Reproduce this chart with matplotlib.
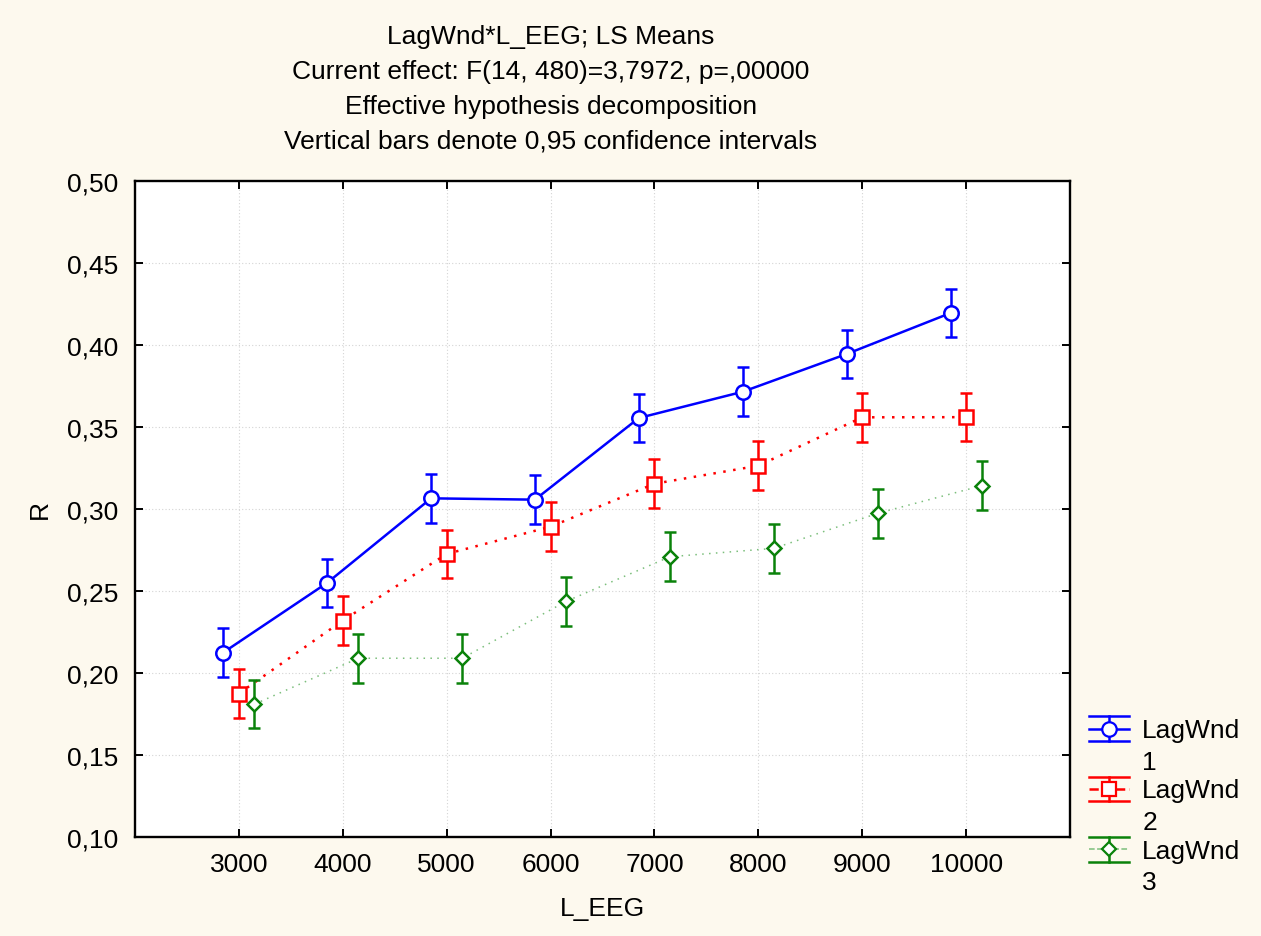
import matplotlib
matplotlib.use('Agg')
import matplotlib.pyplot as plt
from matplotlib.lines import Line2D
from matplotlib.legend_handler import HandlerBase

# ---------------- data ----------------
l_eeg = [3000, 4000, 5000, 6000, 7000, 8000, 9000, 10000]
r_lag1 = [0.2125, 0.2550, 0.3065, 0.3057, 0.3555, 0.3715, 0.3945, 0.4195]
r_lag2 = [0.1875, 0.2320, 0.2726, 0.2892, 0.3154, 0.3264, 0.3559, 0.3560]
r_lag3 = [0.1810, 0.2090, 0.2090, 0.2437, 0.2709, 0.2760, 0.2974, 0.3142]
ci_lag1 = [0.0148, 0.0148, 0.0148, 0.0148, 0.0148, 0.0148, 0.0148, 0.0148]
ci_lag2 = [0.0148, 0.0148, 0.0148, 0.0148, 0.0148, 0.0148, 0.0148, 0.0148]
ci_lag3 = [0.0148, 0.0148, 0.0148, 0.0148, 0.0148, 0.0148, 0.0148, 0.0148]
series_labels = ['LagWnd\n1', 'LagWnd\n2', 'LagWnd\n3']
y_ticks = [0.10, 0.15, 0.20, 0.25, 0.30, 0.35, 0.40, 0.45, 0.50]
title_lines = ['LagWnd*L_EEG; LS Means',
               'Current effect: F(14, 480)=3,7972, p=,00000',
               'Effective hypothesis decomposition',
               'Vertical bars denote 0,95 confidence intervals']

plt.rcParams['font.family'] = ['Liberation Sans', 'DejaVu Sans']
FS = 19

W, H = 1261, 937
fig = plt.figure(figsize=(W / 100, H / 100), dpi=100)
bg = '#fdf9ee'
fig.patch.set_facecolor(bg)

ax = fig.add_axes([135 / W, 1 - 838 / H, (1070 - 135) / W, (838 - 182) / H])
ax.set_facecolor('white')

styles = [
    dict(color='#0000ff', marker='o', ms=10.4, line_color='#0000ff', ls='-', lw=1.8, off=-150),
    dict(color='#ff0000', marker='s', ms=9.8, line_color='#ff0000', ls=(0, (1, 3)), lw=1.8, off=0),
    dict(color='#0a820a', marker='D', ms=7.5, line_color='#7cbf7c', ls=(0, (1, 3.5)), lw=1.1, off=150),
]
data = [(r_lag1, ci_lag1), (r_lag2, ci_lag2), (r_lag3, ci_lag3)]

handles = []
for (vals, ci), st, lab in zip(data, styles, series_labels):
    xs = [x + st['off'] for x in l_eeg]
    ax.plot(xs, vals, color=st['line_color'], ls=st['ls'], lw=st['lw'], zorder=2)
    ax.errorbar(xs, vals, yerr=ci, fmt='none', ecolor=st['color'], elinewidth=1.8,
                capsize=4.4, capthick=1.8, zorder=3)
    ax.plot(xs, vals, ls='none', marker=st['marker'], ms=st['ms'], mfc='white',
            mec=st['color'], mew=1.8, zorder=4)
    h = Line2D([], [], color=st['color'], marker=st['marker'], ms=st['ms'],
               ls=st['ls'], lw=st['lw'], mfc='white', mec=st['color'], mew=1.6)
    h._line_color = st['line_color']
    handles.append(h)


class ErrbarHandler(HandlerBase):
    def create_artists(self, legend, orig_handle, xdescent, ydescent, width, height,
                       fontsize, trans):
        c = orig_handle.get_color()
        lc = getattr(orig_handle, '_line_color', c)
        shift = 12.6
        cy = height / 2 - ydescent + shift
        x0, x1 = -xdescent, -xdescent + width
        xm = (x0 + x1) / 2
        hh = 8.9
        arts = []
        arts.append(Line2D([x0, x1], [cy + hh, cy + hh], color=c, lw=1.8))
        arts.append(Line2D([x0, x1], [cy - hh, cy - hh], color=c, lw=1.8))
        arts.append(Line2D([x0, x1], [cy, cy], color=lc, lw=orig_handle.get_linewidth(),
                           ls=orig_handle.get_linestyle()))
        arts.append(Line2D([xm, xm], [cy - hh, cy + hh], color=c, lw=1.8))
        arts.append(Line2D([xm], [cy], ls='none', marker=orig_handle.get_marker(),
                           ms=orig_handle.get_markersize(), mfc='white', mec=c, mew=1.6))
        for a in arts:
            a.set_transform(trans)
        return arts


leg = fig.legend(handles, series_labels, loc='upper left',
                 bbox_to_anchor=(1089 / W, 1 - 719 / H), frameon=False,
                 fontsize=FS, handlelength=1.52, handletextpad=0.5,
                 labelspacing=0.18, borderpad=0, borderaxespad=0,
                 handler_map={Line2D: ErrbarHandler()})
for t in leg.get_texts():
    t.set_linespacing(1.4)

ax.set_xlim(2000, 11000)
ax.set_ylim(0.10, 0.50)
ax.set_xticks(l_eeg)
ax.set_xticklabels([str(v) for v in l_eeg])
ax.set_yticks(y_ticks)
ax.set_yticklabels([f'{v:.2f}'.replace('.', ',') for v in y_ticks])
ax.tick_params(direction='in', length=6, width=1.4, top=True, right=True,
               labelsize=FS, colors='black')
ax.tick_params(axis='y', pad=12)
ax.tick_params(axis='x', pad=10.5)
for s in ax.spines.values():
    s.set_linewidth(1.7)
    s.set_color('black')
ax.grid(True, color='#d4d4d4', ls=(0, (1, 2)), lw=0.8, zorder=0)
ax.set_axisbelow(True)

ax.set_xlabel('L_EEG', fontsize=FS, labelpad=15)
ax.set_ylabel('R', fontsize=FS, labelpad=11)

ys = [37, 72, 107, 142]
for line, y in zip(title_lines, ys):
    fig.text(551 / W, 1 - y / H, line, ha='center', va='center', fontsize=FS)

fig.savefig('out.png', dpi=100, facecolor=bg)
